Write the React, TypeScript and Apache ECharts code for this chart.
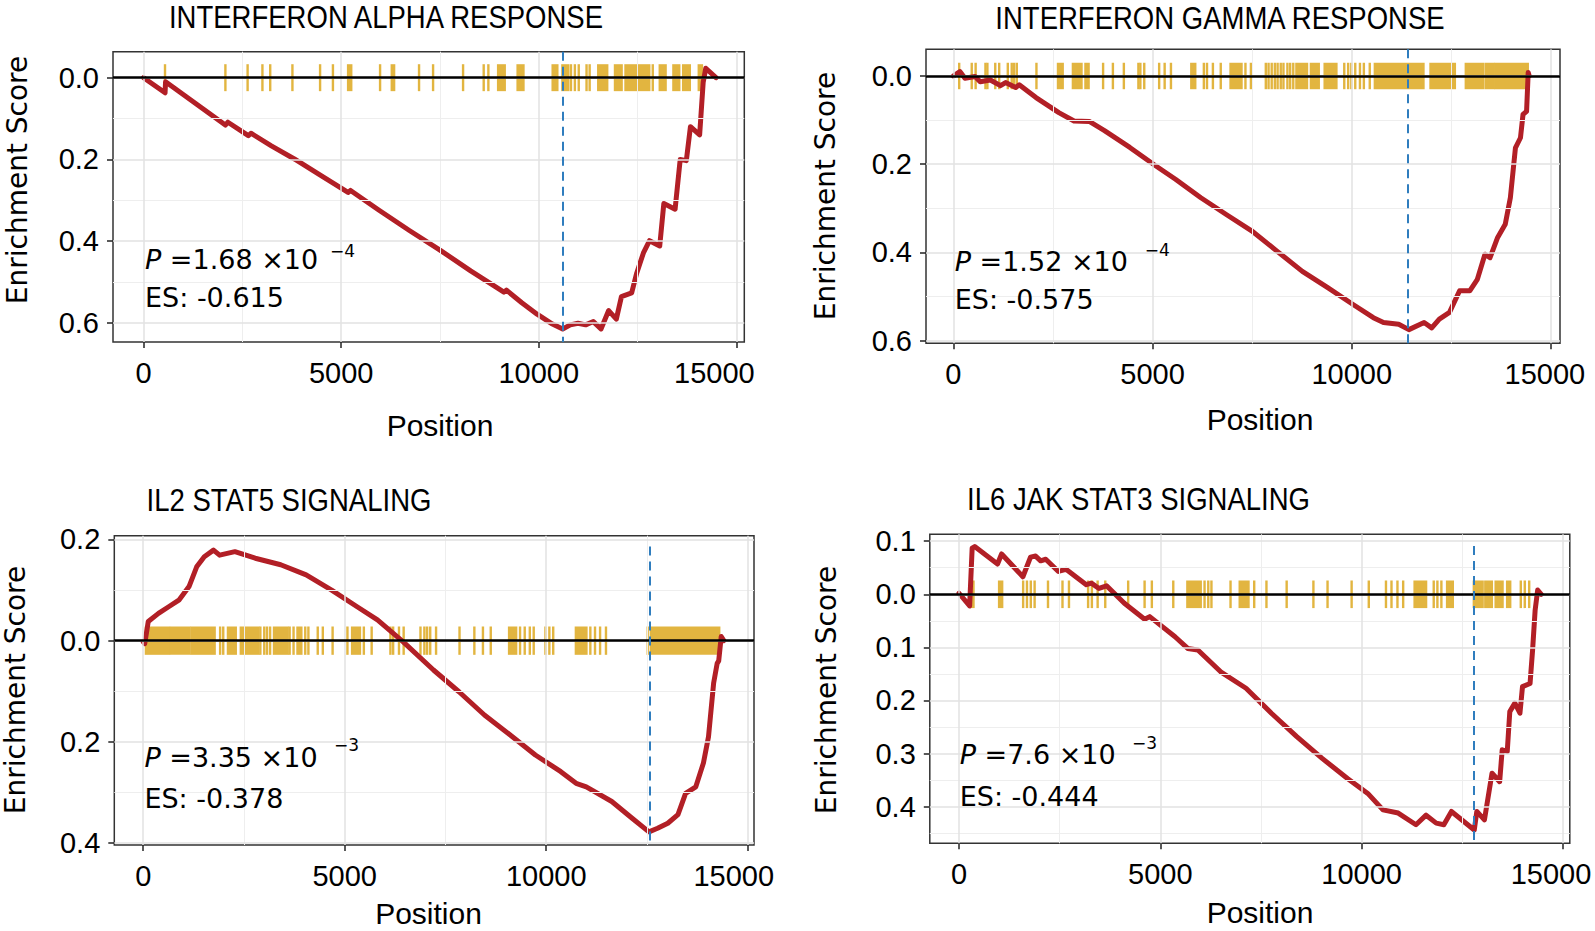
import React, { useEffect, useRef } from "react";
import * as echarts from "echarts";

// ---------- data ----------
const titles = [
  "INTERFERON ALPHA RESPONSE",
  "INTERFERON GAMMA RESPONSE",
  "IL2 STAT5 SIGNALING",
  "IL6 JAK STAT3 SIGNALING",
];
const pMantissa = ["1.68", "1.52", "3.35", "7.6"];
const pExponent = ["\u22124", "\u22124", "\u22123", "\u22123"];
const esLabels = ["-0.615", "-0.575", "-0.378", "-0.444"];
const esPositions = [10600, 11400, 12560, 12780];
const dashTops = [0.0636, 0.0605, 0.186, 0.091];

const xTicks = [0, 5000, 10000, 15000];
const xMinor = [2500, 7500, 12500];
const yTicks = [
  [-0.6, -0.4, -0.2, 0],
  [-0.6, -0.4, -0.2, 0],
  [-0.4, -0.2, 0, 0.2],
  [-0.4, -0.3, -0.2, -0.1, 0, 0.1],
];
const yMinor = [
  [-0.5, -0.3, -0.1],
  [-0.5, -0.3, -0.1],
  [-0.3, -0.1, 0.1],
  [-0.45, -0.35, -0.25, -0.15, -0.05, 0.05],
];
const xMin = [-774, -685, -717, -725];
const xMax = [15200, 15228, 15156, 15168];
const yMin = [-0.647, -0.606, -0.404, -0.469];
const yMax = [0.0636, 0.0605, 0.2075, 0.113];
const hitHalf = [0.033, 0.03, 0.028, 0.026];

const hits1 = [
  [542, 542], [2070, 2070], [2632, 2632], [3007, 3007], [3204, 3204], [3766, 3766],
  [4466, 4466], [4791, 4791], [5175, 5254], [5984, 5984], [6280, 6339], [6970, 6970],
  [7325, 7325], [8084, 8084], [8606, 8606], [8724, 8724], [8971, 9138], [9464, 9612],
  [10351, 10469], [10597, 10745], [10814, 10814], [10913, 10913], [11011, 11011],
  [11208, 11208], [11287, 11287], [11504, 11731], [11928, 12096], [12194, 12795],
  [12884, 12884], [13061, 13209], [13406, 13554], [13653, 13821], [14048, 14127],
];
const hits2 = [
  [148, 148], [463, 463], [561, 561], [807, 807], [856, 856], [1053, 1053], [1152, 1152],
  [1368, 1368], [1467, 1467], [1526, 1526], [1594, 1594], [2087, 2087], [2628, 2746],
  [3002, 3218], [3317, 3396], [3760, 3760], [4006, 4006], [4281, 4281], [4646, 4646],
  [4695, 4695], [4793, 4793], [5167, 5167], [5305, 5305], [5463, 5463], [5974, 6073],
  [6289, 6289], [6368, 6368], [6516, 6516], [6713, 6713], [6959, 7234], [7333, 7333],
  [7470, 7470], [7844, 7844], [7913, 7913], [7992, 7992], [8071, 8071], [8140, 8140],
  [8219, 8219], [8287, 8287], [8386, 8386], [8455, 8455], [8533, 8533], [8612, 8878],
  [8976, 9173], [9321, 9616], [9813, 9813], [9911, 9911], [9990, 9990], [10089, 10089],
  [10207, 10207], [10305, 10305], [10453, 10453], [10581, 11801], [11978, 12589],
  [12864, 13307], [13376, 13553], [13602, 14419],
];
const hits3 = [
  [68, 640], [690, 1150], [1200, 1773], [1909, 1909], [1986, 1986], [2103, 2297],
  [2422, 2858], [2907, 2907], [3004, 3004], [3072, 3072], [3149, 3149], [3246, 3585],
  [3634, 3634], [3731, 3731], [3828, 3924], [4021, 4021], [4099, 4099], [4331, 4331],
  [4457, 4457], [4700, 4700], [5068, 5068], [5184, 5378], [5475, 5475], [5669, 5669],
  [6134, 6134], [6202, 6202], [6347, 6347], [6463, 6463], [6880, 6880], [6977, 6977],
  [7045, 7045], [7122, 7122], [7267, 7267], [7849, 7849], [8217, 8217], [8430, 8430],
  [8624, 8624], [9079, 9254], [9351, 9351], [9467, 9467], [9593, 9593], [9690, 9690],
  [9981, 9981], [10078, 10078], [10174, 10174], [10736, 10998], [11095, 11095],
  [11211, 11211], [11337, 11337], [11483, 11483], [12519, 12519], [12597, 14293],
];
const hits4 = [
  [294, 360], [996, 1072], [1593, 1593], [1688, 1688], [1783, 1783], [1878, 1878],
  [2210, 2210], [2570, 2570], [2731, 2731], [3206, 3206], [3300, 3300], [3443, 3443],
  [3632, 3632], [4201, 4201], [4609, 4609], [4789, 4789], [5321, 5321], [5671, 6003],
  [6098, 6098], [6190, 6190], [6269, 6269], [6743, 6743], [6971, 7189], [7331, 7331],
  [7635, 7635], [8137, 8137], [8801, 8801], [9152, 9152], [9750, 9750], [10176, 10176],
  [10603, 10603], [10740, 10740], [10888, 10888], [11030, 11030], [11314, 11599],
  [11789, 11789], [11880, 11880], [11979, 11979], [12121, 12263], [12785, 13003],
  [13070, 13232], [13327, 13498], [13612, 13688], [13951, 13951], [14050, 14050],
  [14160, 14160],
];

const curve1 = [
  [0, 0], [543, -0.037], [556, -0.01], [2069, -0.116], [2134, -0.109], [2651, -0.142],
  [2716, -0.136], [3233, -0.167], [3815, -0.199], [4461, -0.238], [5173, -0.281],
  [5237, -0.276], [5949, -0.324], [6725, -0.374], [7500, -0.422], [8276, -0.473],
  [9117, -0.525], [9181, -0.52], [9570, -0.551], [9957, -0.579], [10345, -0.603],
  [10604, -0.615], [10798, -0.605], [10992, -0.601], [11186, -0.605], [11380, -0.597],
  [11574, -0.615], [11768, -0.57], [11962, -0.591], [12091, -0.536], [12350, -0.527],
  [12479, -0.478], [12647, -0.429], [12802, -0.399], [13060, -0.412], [13164, -0.308],
  [13449, -0.322], [13578, -0.2], [13733, -0.203], [13837, -0.12], [14070, -0.14],
  [14160, -0.011], [14225, 0.023], [14483, 0],
];
const curve2 = [
  [0, 0], [166, 0.01], [293, -0.005], [548, -0.001], [675, -0.013], [930, -0.009],
  [1184, -0.022], [1312, -0.015], [1566, -0.026], [1655, -0.02], [2076, -0.049],
  [2649, -0.083], [3031, -0.102], [3413, -0.103], [3795, -0.124], [4431, -0.162],
  [5068, -0.203], [5577, -0.234], [6214, -0.276], [6851, -0.314], [7488, -0.351],
  [8124, -0.397], [8761, -0.443], [9398, -0.48], [10034, -0.518], [10544, -0.548],
  [10798, -0.559], [11180, -0.563], [11435, -0.575], [11817, -0.559], [12008, -0.571],
  [12199, -0.551], [12454, -0.536], [12708, -0.487], [12963, -0.487], [13154, -0.461],
  [13345, -0.404], [13472, -0.412], [13663, -0.366], [13854, -0.336], [13982, -0.276],
  [14109, -0.163], [14236, -0.14], [14300, -0.087], [14389, -0.08], [14430, 0.008],
  [14455, 0],
];
const curve3 = [
  [0, -0.002], [38, -0.006], [126, 0.038], [379, 0.054], [632, 0.067], [885, 0.08],
  [1137, 0.107], [1327, 0.146], [1516, 0.166], [1744, 0.179], [1896, 0.169],
  [2275, 0.176], [2780, 0.163], [3412, 0.15], [4044, 0.13], [4676, 0.1], [5308, 0.067],
  [5813, 0.041], [6445, -0.002], [7203, -0.058], [7835, -0.101], [8467, -0.147],
  [9099, -0.186], [9731, -0.226], [10363, -0.259], [10742, -0.282], [10995, -0.289],
  [11627, -0.318], [12132, -0.351], [12549, -0.378], [12764, -0.371], [13017, -0.361],
  [13269, -0.344], [13459, -0.302], [13712, -0.289], [13901, -0.242], [14027, -0.19],
  [14154, -0.084], [14242, -0.045], [14280, -0.04], [14343, 0.008], [14406, 0],
];
const curve4 = [
  [0, 0.002], [264, -0.022], [327, 0.087], [390, 0.09], [957, 0.057], [1058, 0.076],
  [1587, 0.033], [1776, 0.07], [1902, 0.072], [2028, 0.063], [2154, 0.066],
  [2469, 0.043], [2657, 0.047], [3161, 0.018], [3287, 0.021], [3476, 0.011],
  [3665, 0.016], [4106, -0.017], [4610, -0.047], [4736, -0.042], [5365, -0.08],
  [5680, -0.102], [5932, -0.105], [6499, -0.146], [7128, -0.177], [7758, -0.224],
  [8388, -0.268], [9018, -0.309], [9647, -0.347], [10151, -0.375], [10529, -0.406],
  [10907, -0.412], [11348, -0.434], [11599, -0.416], [11851, -0.431], [12040, -0.434],
  [12229, -0.409], [12796, -0.444], [12859, -0.409], [13048, -0.425], [13237, -0.337],
  [13426, -0.353], [13489, -0.293], [13615, -0.296], [13678, -0.221], [13804, -0.205],
  [13930, -0.224], [13993, -0.174], [14181, -0.168], [14244, -0.105], [14307, -0.03],
  [14370, 0.008], [14458, 0],
];

const hitsAll = [hits1, hits2, hits3, hits4];
const curvesAll = [curve1, curve2, curve3, curve4];

// ---------- layout / style ----------
const gridRects = [
  { left: 113, top: 51.7, width: 631.3, height: 290.3 },
  { left: 926, top: 49.3, width: 634, height: 294 },
  { left: 114.3, top: 535.7, width: 639.7, height: 309.3 },
  { left: 929.8, top: 534.3, width: 640, height: 309 },
];
// leftward shift (px) of the last x tick label, as in the reference
const lastLabelShift = [22, 6, 14, 12];
const titlePos = [[386, 17], [1220, 17.5], [289, 500], [1138.5, 498.5]];
const yTitlePos = [[17, 180], [825, 196], [15, 690], [826, 690]];
const xTitlePos = [[440, 425], [1260, 419], [428.5, 913], [1260, 912]];
const pPos = [[145, 259], [954.7, 261.5], [144.4, 757.5], [959.7, 754]];
const supPos = [[330, 251], [1144.8, 250], [334, 745], [1132, 742.5]];
const esPos = [[145, 297], [954.7, 299], [144.4, 798], [959.7, 796]];

const RED = "#B21F26";
const GOLD = "#E2B540";
const BLUE = "#2F7DBE";
const MAJOR = { color: "#E2E2E2", width: 1.5, type: "solid" };
const MINOR = { color: "#EEEEEE", width: 1, type: "solid" };
const SANS = '"Liberation Sans", Arial, sans-serif';
const DEJAVU = '"DejaVu Sans", Verdana, sans-serif';

function buildOption() {
  const grid: any[] = [];
  const xAxis: any[] = [];
  const yAxis: any[] = [];
  const series: any[] = [];
  const graphic: any[] = [];

  for (let i = 0; i < 4; i++) {
    grid.push({
      ...gridRects[i],
      show: true,
      borderColor: "#333",
      borderWidth: 1.5,
      backgroundColor: "#fff",
      containLabel: false,
      outerBoundsMode: "none",
    });
    const lastTick = xTicks[xTicks.length - 1];
    xAxis.push({
      type: "value",
      gridIndex: i,
      min: xMin[i],
      max: xMax[i],
      axisLine: { show: false, onZero: false },
      splitLine: { show: false },
      axisTick: {
        show: true,
        length: 6,
        customValues: xTicks,
        lineStyle: { color: "#222", width: 1.5 },
      },
      axisLabel: {
        customValues: xTicks,
        fontSize: 29,
        fontFamily: SANS,
        color: "#000",
        margin: 16,
        formatter: (v: number) => (v === lastTick ? "{m|" + v + "}" : String(v)),
        rich: {
          m: {
            fontSize: 29,
            fontFamily: SANS,
            color: "#000",
            padding: [0, lastLabelShift[i] * 2, 0, 0],
          },
        },
      },
    });
    yAxis.push({
      type: "value",
      gridIndex: i,
      min: yMin[i],
      max: yMax[i],
      axisLine: { show: false, onZero: false },
      splitLine: { show: false },
      axisTick: {
        show: true,
        length: 6,
        customValues: yTicks[i],
        lineStyle: { color: "#222", width: 1.5 },
      },
      axisLabel: {
        customValues: yTicks[i],
        fontSize: 29,
        fontFamily: SANS,
        color: "#000",
        margin: 14,
        formatter: (v: number) => Math.abs(v).toFixed(1),
      },
    });

    // grid lines
    series.push({
      type: "line",
      xAxisIndex: i,
      yAxisIndex: i,
      data: [],
      silent: true,
      z: 1,
      markLine: {
        silent: true,
        animation: false,
        symbol: ["none", "none"],
        label: { show: false },
        data: [
          ...xMinor.map((v) => ({ xAxis: v, lineStyle: MINOR })),
          ...yMinor[i].map((v) => ({ yAxis: v, lineStyle: MINOR })),
          ...xTicks.map((v) => ({ xAxis: v, lineStyle: MAJOR })),
          ...yTicks[i].map((v) => ({ yAxis: v, lineStyle: MAJOR })),
        ],
      },
    });

    // hit ticks
    const hh = hitHalf[i];
    series.push({
      type: "custom",
      xAxisIndex: i,
      yAxisIndex: i,
      silent: true,
      z: 2,
      data: hitsAll[i].map((h) => [h[0], h[1], 0]),
      encode: { x: [0, 1], y: 2 },
      renderItem: (params: any, api: any) => {
        const p0 = api.coord([api.value(0), hh]);
        const p1 = api.coord([api.value(1), -hh]);
        const w = Math.max(p1[0] - p0[0], 0) + 2.4;
        return {
          type: "rect",
          shape: { x: p0[0] - 1.2, y: p0[1], width: w, height: p1[1] - p0[1] },
          style: { fill: GOLD },
        };
      },
    });

    // zero line
    series.push({
      type: "line",
      xAxisIndex: i,
      yAxisIndex: i,
      data: [],
      silent: true,
      z: 3,
      markLine: {
        silent: true,
        animation: false,
        symbol: ["none", "none"],
        label: { show: false },
        lineStyle: { color: "#000", width: 2.5, type: "solid" },
        data: [{ yAxis: 0 }],
      },
    });

    // running enrichment score
    series.push({
      type: "line",
      xAxisIndex: i,
      yAxisIndex: i,
      data: curvesAll[i],
      showSymbol: false,
      symbol: "none",
      silent: true,
      z: 4,
      lineStyle: { color: RED, width: 5, join: "round", cap: "round" },
    });

    // dashed ES position
    series.push({
      type: "line",
      xAxisIndex: i,
      yAxisIndex: i,
      data: [],
      silent: true,
      z: 5,
      markLine: {
        silent: true,
        animation: false,
        symbol: ["none", "none"],
        label: { show: false },
        lineStyle: { color: BLUE, width: 2, type: [9, 6] },
        data: [[{ coord: [esPositions[i], dashTops[i]] }, { coord: [esPositions[i], yMin[i]] }]],
      },
    });

    // texts
    graphic.push({
      type: "text",
      x: titlePos[i][0],
      y: titlePos[i][1],
      scaleX: 0.86,
      style: {
        text: titles[i],
        fontSize: 32,
        fontFamily: SANS,
        fill: "#000",
        align: "center",
        verticalAlign: "middle",
      },
    });
    graphic.push({
      type: "text",
      x: yTitlePos[i][0],
      y: yTitlePos[i][1],
      rotation: Math.PI / 2,
      style: {
        text: "Enrichment Score",
        fontSize: 28,
        fontFamily: DEJAVU,
        fill: "#000",
        align: "center",
        verticalAlign: "middle",
      },
    });
    graphic.push({
      type: "text",
      x: xTitlePos[i][0],
      y: xTitlePos[i][1],
      style: {
        text: "Position",
        fontSize: 30,
        fontFamily: SANS,
        fill: "#000",
        align: "center",
        verticalAlign: "middle",
      },
    });
    graphic.push({
      type: "text",
      x: pPos[i][0],
      y: pPos[i][1],
      z: 100,
      style: {
        text: "{i|P} =" + pMantissa[i] + " \u00D710",
        rich: { i: { fontStyle: "italic", fontSize: 27, fontFamily: DEJAVU, fill: "#000" } },
        fontSize: 27,
        fontFamily: DEJAVU,
        fill: "#000",
        align: "left",
        verticalAlign: "middle",
      },
    });
    graphic.push({
      type: "text",
      x: supPos[i][0],
      y: supPos[i][1],
      z: 100,
      style: {
        text: pExponent[i],
        fontSize: 17,
        fontFamily: DEJAVU,
        fill: "#000",
        align: "left",
        verticalAlign: "middle",
      },
    });
    graphic.push({
      type: "text",
      x: esPos[i][0],
      y: esPos[i][1],
      z: 100,
      style: {
        text: "ES: " + esLabels[i],
        fontSize: 27,
        fontFamily: DEJAVU,
        fill: "#000",
        align: "left",
        verticalAlign: "middle",
      },
    });
  }

  return {
    animation: false,
    backgroundColor: "#fff",
    grid,
    xAxis,
    yAxis,
    series,
    graphic,
  };
}

export default function App() {
  const ref = useRef<HTMLDivElement>(null);
  useEffect(() => {
    if (!ref.current) return;
    const chart = echarts.init(ref.current, undefined, { renderer: "svg" });
    chart.setOption(buildOption() as any);
    return () => chart.dispose();
  }, []);
  return (
    <div
      ref={ref}
      style={{ position: "fixed", left: 0, top: 0, width: 1595, height: 931, background: "#fff" }}
    />
  );
}
